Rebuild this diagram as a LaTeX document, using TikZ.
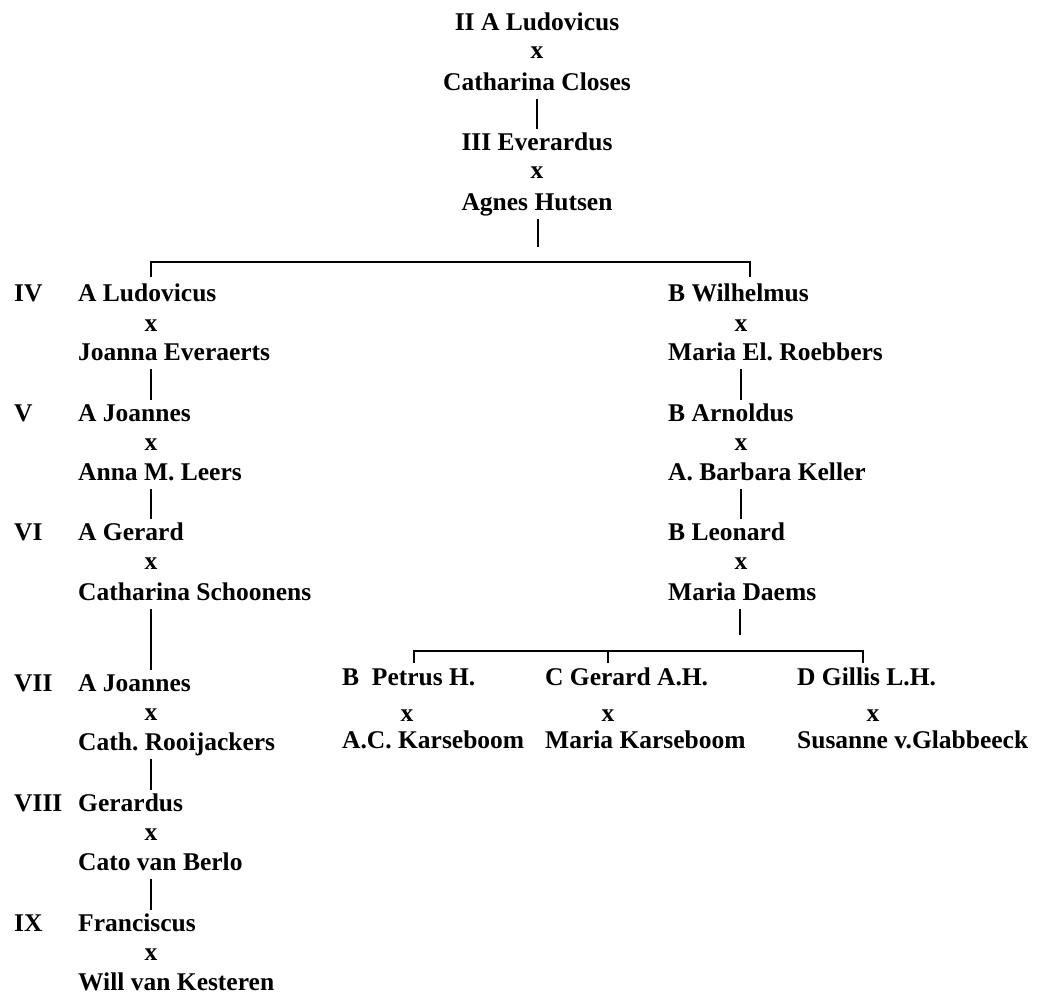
\documentclass[tikz,border=0pt]{standalone}
\usepackage{fontspec}
\setmainfont{Liberation Serif}
\usetikzlibrary{positioning}
\frenchspacing

\begin{document}
\begin{tikzpicture}[x=1pt,y=-1pt,
    txt/.style={inner sep=0pt,text height=17pt,text depth=5pt,
      font=\fontsize{25.5}{30}\selectfont\bfseries},
    person/.style={txt,anchor=west,yshift=-2pt},
    cperson/.style={txt,yshift=-2pt},
    wed/.style={txt},
    gen/.style={person},
    link/.style={line width=1.8pt,shorten <=4pt,shorten >=4pt},
    bar/.style={line width=2.2pt}]
  \useasboundingbox (0,0) rectangle (1040,997);
  % top of the tree
  \node [cperson] (ludII) at (537,22) {II A Ludovicus};
  \node [wed] (xII) at (537,52) {x};
  \node [cperson] (closes) at (537,82) {Catharina Closes};
  \node [cperson] (everIII) at (537,142) {III Everardus};
  \node [wed] (xIII) at (537,172) {x};
  \node [cperson] (hutsen) at (537,202) {Agnes Hutsen};
  \draw [link] (closes.south -| xII) -- (everIII.north -| xII);
  \coordinate (stemA) at (538,251);
  \draw [link] (hutsen.south -| stemA) -- (stemA);
  \coordinate (barL) at (151,262); \coordinate (barR) at (750,262);
  \draw [bar] ([yshift=-15pt]barL) -- (barL) -- (barR) -- ([yshift=-15pt]barR);
  % generations
  \node [gen] (genIV) at (14,293) {IV};
  \node [gen] (genV) at (14,413) {V};
  \node [gen] (genVI) at (14,532) {VI};
  \node [gen] (genVII) at (14,683) {VII};
  \node [gen] (genVIII) at (14,803) {VIII};
  \node [gen] (genIX) at (14,923) {IX};
  % branch A
  \node [person] (ludIV) at (78,293) {A Ludovicus};
  \node [wed] (xIV) at (151,325) {x};
  \node [person] (everaerts) at (78,352) {Joanna Everaerts};
  \node [person] (joaV) at (78,413) {A Joannes};
  \node [wed] (xV) at (151,444) {x};
  \node [person] (leers) at (78,472) {Anna M. Leers};
  \node [person] (gerVI) at (78,532) {A Gerard};
  \node [wed] (xVI) at (151,563) {x};
  \node [person] (schoonens) at (78,592) {Catharina Schoonens};
  \node [person] (joaVII) at (78,683) {A Joannes};
  \node [wed] (xVII) at (151,714) {x};
  \node [person] (rooij) at (78,742) {Cath. Rooijackers};
  \node [person] (gerVIII) at (78,803) {Gerardus};
  \node [wed] (xVIII) at (151,834) {x};
  \node [person] (berlo) at (78,862) {Cato van Berlo};
  \node [person] (franIX) at (78,923) {Franciscus};
  \node [wed] (xIX) at (151,954) {x};
  \node [person] (kesteren) at (78,982) {Will van Kesteren};
  \draw [link] (everaerts.south -| xIV) -- (joaV.north -| xIV);
  \draw [link] (leers.south -| xV) -- (gerVI.north -| xV);
  \draw [link] (schoonens.south -| xVI) -- (joaVII.north -| xVI);
  \draw [link] (rooij.south -| xVII) -- (gerVIII.north -| xVII);
  \draw [link] (berlo.south -| xVIII) -- (franIX.north -| xVIII);
  % branch B
  \node [person] (wilIV) at (668,293) {B Wilhelmus};
  \node [wed] (xBIV) at (741,325) {x};
  \node [person] (roebbers) at (668,352) {Maria El. Roebbers};
  \node [person] (arnV) at (668,413) {B Arnoldus};
  \node [wed] (xBV) at (741,444) {x};
  \node [person] (keller) at (668,472) {A. Barbara Keller};
  \node [person] (leoVI) at (668,532) {B Leonard};
  \node [wed] (xBVI) at (741,563) {x};
  \node [person] (daems) at (668,592) {Maria Daems};
  \draw [link] (roebbers.south -| xBIV) -- (arnV.north -| xBIV);
  \draw [link] (keller.south -| xBV) -- (leoVI.north -| xBV);
  \coordinate (stemB) at (740,639);
  \draw [link] (daems.south -| stemB) -- (stemB);
  \coordinate (barBL) at (414,651); \coordinate (barBM) at (608,651);
  \coordinate (barBR) at (863,651);
  \draw [bar] ([yshift=-12pt]barBL) -- (barBL) -- (barBR) -- ([yshift=-12pt]barBR);
  \draw [bar] (barBM) -- ([yshift=-12pt]barBM);
  % children of Leonard
  \node [person] (petVII) at (342,677) {B~~Petrus H.};
  \node [wed] (xPet) at (407,715) {x};
  \node [person] (acKars) at (342,740) {A.C. Karseboom};
  \node [person] (gerVII) at (545,677) {C Gerard A.H.};
  \node [wed] (xGer) at (608,715) {x};
  \node [person] (mKars) at (545,740) {Maria Karseboom};
  \node [person] (gilVII) at (797,677) {D Gillis L.H.};
  \node [wed] (xGil) at (873,715) {x};
  \node [person] (glab) at (797,740) {Susanne v.Glabbeeck};
\end{tikzpicture}
\end{document}
